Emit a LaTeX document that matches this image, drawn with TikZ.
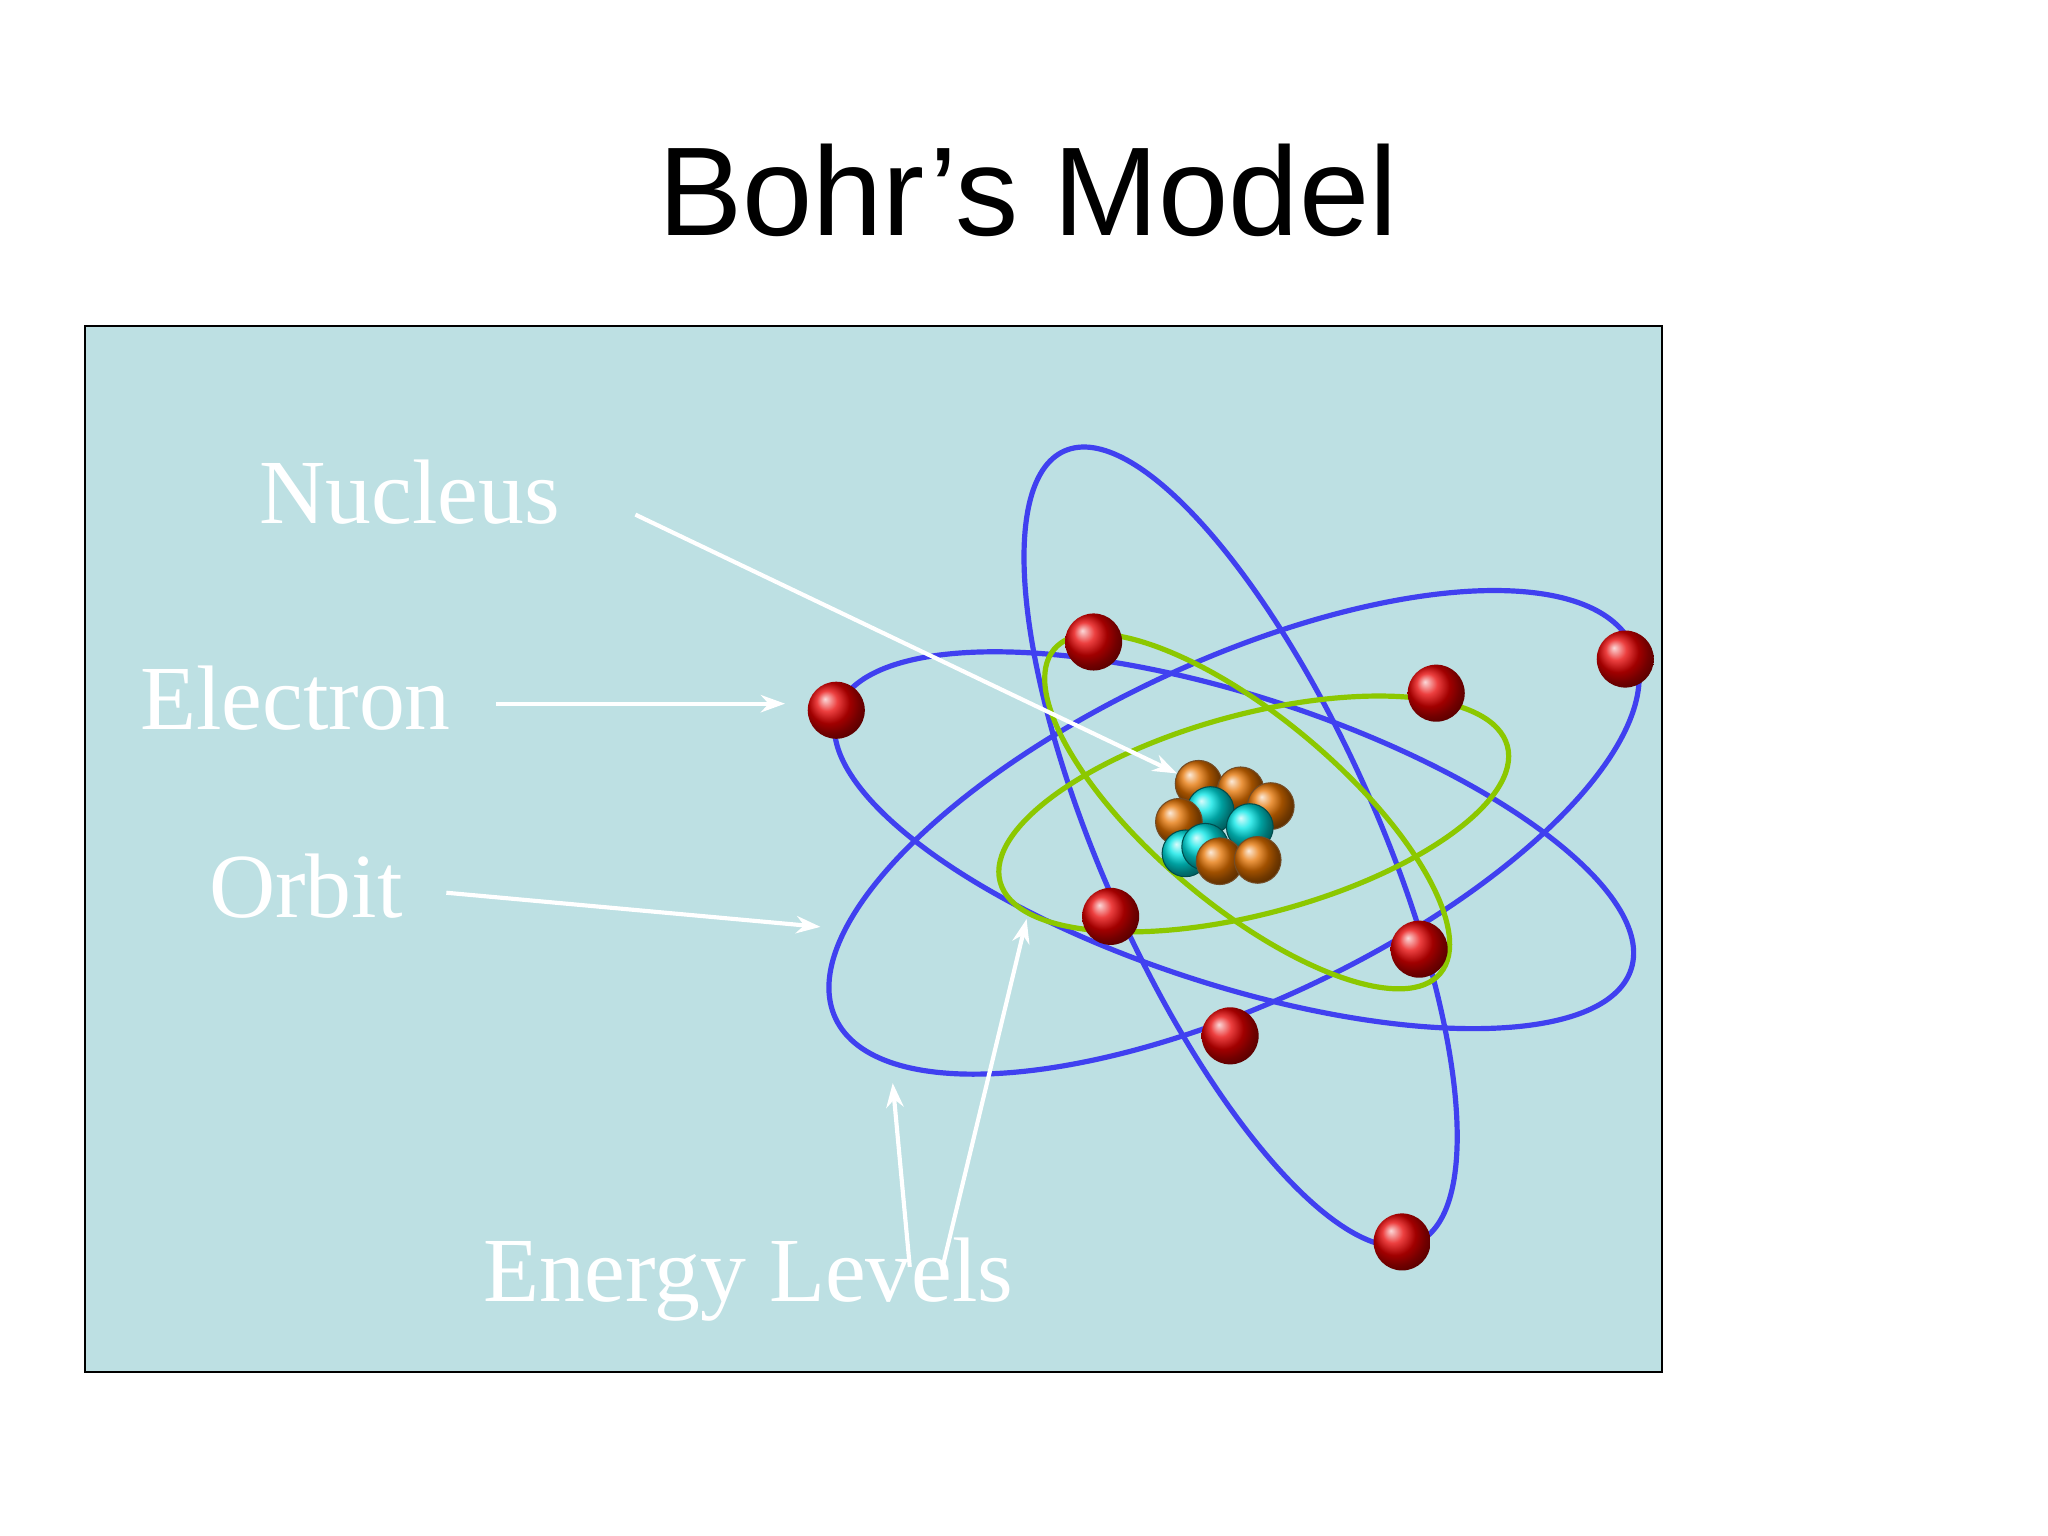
\documentclass[tikz,border=0pt]{standalone}
\usepackage{fontspec}
\setmainfont{Liberation Serif}
\newfontfamily\titlefont{Liberation Sans}
\usetikzlibrary{arrows.meta}
\definecolor{bg}{HTML}{BDE0E3}
\definecolor{orb}{HTML}{4040F0}
\definecolor{gorb}{HTML}{8CC800}
\tikzset{
 lbl/.style={text=white,font=\fontsize{26.5}{30}\selectfont},
 ptr/.style={draw=white,line width=1.2pt,-{Stealth[length=7pt,width=5pt,open]}},
 blue orbit/.style={draw=orb,line width=1.5pt},
 green orbit/.style={draw=gorb,line width=1.5pt},
 electron/.style={circle,minimum size=16.5pt,inner sep=0pt,ball color=red!90!black,shading=ball},
 proton/.style={circle,minimum size=13.5pt,inner sep=0pt,ball color=orange!90!black,draw=brown!60!black,line width=0.3pt},
 neutron/.style={circle,minimum size=13.5pt,inner sep=0pt,ball color=cyan!90!black,draw=teal!60!black,line width=0.3pt},
}
\begin{document}
\begin{tikzpicture}[x=0.013333cm,y=-0.013333cm]
\useasboundingbox[fill=white] (0,0) rectangle (1560,1170);
\node[font=\titlefont\fontsize{36.5}{40}\selectfont] (title) at (783,145) {Bohr’s Model};
\draw[fill=bg,draw=black,line width=0.6pt] (65,248) rectangle (1266,1045);
% orbits
\draw[blue orbit,rotate around={-18:(940,640)}] (940,640) ellipse (318 and 110);
\draw[blue orbit,rotate around={25:(940,634)}] (940,634) ellipse (335 and 130);
\draw[blue orbit,rotate around={-66:(945,645)}] (945,645) ellipse (330 and 105);
\draw[green orbit,rotate around={15:(955,620)}] (955,620) ellipse (200 and 76);
\draw[green orbit,rotate around={-40:(950,618)}] (950,618) ellipse (192 and 72);
% nucleus
\node[proton] (p1) at (913,597) {};
\node[proton] (p2) at (945,602) {};
\node[proton] (p3) at (968,614) {};
\node[neutron] (n1) at (922,617) {};
\node[neutron] (n2) at (952,630) {};
\node[proton] (p4) at (898,626) {};
\node[neutron] (n3) at (903,650) {};
\node[neutron] (n4) at (918,645) {};
\node[proton] (p5) at (929,656) {};
\node[proton] (p6) at (958,655) {};
% electrons
\foreach \n/\p in {e1/{(833,489)},e2/{(637,541)},e3/{(1094,528)},e4/{(1238,502)},e5/{(846,698)},e6/{(1081,723)},e7/{(937,789)},e8/{(1068,946)}}
  \node[electron] (\n) at \p {};
% labels
\node[lbl] (nuc) at (312,375) {Nucleus};
\node[lbl] (ele) at (225,532) {Electron};
\node[lbl] (orbl) at (233,675) {Orbit};
\node[lbl] (en) at (570,975) {Energy Levels};
\coordinate (nucS) at (484,392);
\coordinate (eleS) at (378,536);
\coordinate (eleE) at (598,536);
\coordinate (orbS) at (340,680);
\coordinate (orbE) at (625,706);
\coordinate (en1S) at (693,965);
\coordinate (en1E) at (680,825);
\coordinate (en2S) at (718,965);
\coordinate (en2E) at (782,700);
\draw[ptr] (nucS) -- (p1);
\draw[ptr] (eleS) -- (eleE);
\draw[ptr] (orbS) -- (orbE);
\draw[ptr] (en1S) -- (en1E);
\draw[ptr] (en2S) -- (en2E);
\end{tikzpicture}
\end{document}
